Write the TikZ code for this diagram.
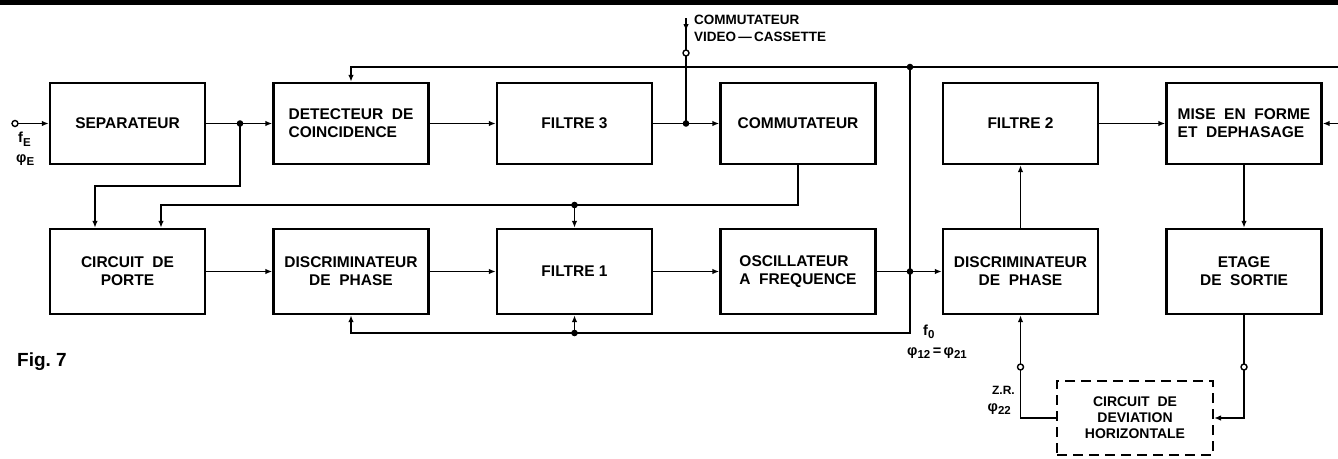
\documentclass[tikz,border=0pt]{standalone}
\usepackage{fontspec}
\setmainfont{Liberation Sans}
\usetikzlibrary{arrows.meta}
% lowered index set in a slightly smaller size
\newcommand{\lowidx}[1]{\raisebox{-3.5pt}{\fontsize{11.5}{12}\selectfont #1}}
\begin{document}
\begin{tikzpicture}[x=1pt,y=-1pt,
  blk/.style={draw, line width=2.4pt, minimum width=155pt, inner sep=0pt,
              font=\fontsize{15.5}{18}\selectfont\bfseries, align=center},
  toprow/.style={blk, minimum height=81pt},
  lowrow/.style={blk, minimum height=85pt},
  wire/.style={line width=1.6pt},
  arr/.style={wire, -{Latex[length=7pt,width=5.5pt]}},
  ringmark/.style={draw, fill=white, line width=1.4pt},
  lbl/.style={font=\fontsize{14.5}{16}\selectfont\bfseries, inner sep=0pt}
]
\useasboundingbox (0,0) rectangle (1338,458);
% heading rule
\fill (0,0) rectangle (1338,4.5);

% upper row of blocks
\node[toprow] (sep)  at (127.5,123.5) {SEPARATEUR};
\node[toprow, align=left] (det) at (351,123.5) {DETECTEUR\ \ DE\\COINCIDENCE};
\node[toprow] (f3)   at (574.5,123.5) {FILTRE 3};
\node[toprow] (com)  at (798,123.5) {COMMUTATEUR};
\node[toprow] (f2)   at (1020.5,123.5) {FILTRE 2};
\node[toprow, align=left] (mise) at (1244,123.5) {MISE\ \ EN\ \ FORME\\ET\ \ DEPHASAGE};

% lower row of blocks
\node[lowrow] (porte) at (127.5,271.5) {CIRCUIT\ \ DE\\PORTE};
\node[lowrow] (disc1) at (351,271.5) {DISCRIMINATEUR\\DE\ \ PHASE};
\node[lowrow] (f1)    at (574.5,271.5) {FILTRE 1};
\node[lowrow, align=left] (osc) at (798,271.5) {OSCILLATEUR\\A\ \ FREQUENCE};
\node[lowrow] (disc2) at (1020.5,271.5) {DISCRIMINATEUR\\DE\ \ PHASE};
\node[lowrow] (etage) at (1244,271.5) {ETAGE\\DE\ \ SORTIE};

% deflection circuit (external)
\node[draw, dash pattern=on 10pt off 6pt, line width=2pt, minimum width=156pt,
      minimum height=74pt, align=center, inner sep=0pt,
      font=\fontsize{14}{16}\selectfont\bfseries] (dev) at (1135,418)
      {CIRCUIT\ \ DE\\DEVIATION\\HORIZONTALE};

% junctions and terminals
\coordinate (inp)   at (15,123.5);
\coordinate (jA)    at (240,123.5);
\coordinate (cA)    at (95,186);
\coordinate (jB)    at (686,123.5);
\coordinate (vtop)  at (686,18);
\coordinate (vring) at (686,53);
\coordinate (tR)    at (1338,67);
\coordinate (jT)    at (910,67);
\coordinate (cB)    at (161,205);
\coordinate (jC)    at (574.5,205);
\coordinate (jD)    at (910,271.5);
\coordinate (cC)    at (910,333);
\coordinate (jE)    at (574.5,333);
\coordinate (rR)    at (1338,123.5);
\coordinate (rz)    at (1020.5,367);
\coordinate (rs)    at (1244,367);

% signal path
\draw[arr] (inp) -- (sep.west);
\draw[wire] (sep.east) -- (jA);
\draw[arr] (jA) -- (det.west);
\draw[arr] (jA) |- (cA) -- (cA |- porte.north);
\draw[arr] (det.east) -- (f3.west);
\draw[wire] (f3.east) -- (jB);
\draw[arr] (jB) -- (com.west);
\draw[wire] (vtop) -- (jB);
\draw[arr] (vtop) -- ++(0,13);
\draw[arr] (tR) -- (det.north |- tR) -- (det.north);
\draw[arr] (com.south) |- (cB) -- (cB |- porte.north);
\draw[arr] (jC) -- (f1.north);
\draw[arr] (porte.east) -- (disc1.west);
\draw[arr] (disc1.east) -- (f1.west);
\draw[arr] (f1.east) -- (osc.west);
\draw[wire] (osc.east) -- (jD);
\draw[arr] (jD) -- (disc2.west);
\draw[arr] (jT) -- (cC) -| (disc1.south);
\draw[arr] (jE) -- (f1.south);
\draw[arr] (disc2.north) -- (f2.south);
\draw[arr] (f2.east) -- (mise.west);
\draw[arr] (mise.south) -- (etage.north);
\draw[arr] (rR) -- (mise.east);
\draw[arr] (dev.west) -| (disc2.south);
\draw[arr] (etage.south) |- (dev.east);

% junction dots
\foreach \p in {jA,jB,jT,jC,jD,jE} \fill (\p) circle (3.3pt);
% terminal rings
\foreach \p in {inp,vring,rz,rs} \draw[ringmark] (\p) circle (3pt);

% labels
\node[lbl, anchor=west] (fe) at (18,139) {f\lowidx{E}};
\node[lbl, anchor=west] (phie) at (16,160) {φ\lowidx{E}};
\node[lbl, anchor=north west, align=left, font=\fontsize{13.5}{16.5}\selectfont\bfseries]
      (vctext) at (694,15) {COMMUTATEUR\\VIDEO\,—\,CASSETTE};
\node[lbl, anchor=west] (f0) at (923,332) {f\lowidx{0}};
\node[lbl, anchor=west] (phi12) at (907,353) {φ\lowidx{12}\,=\,φ\lowidx{21}};
\node[lbl, anchor=east, font=\fontsize{12}{14}\selectfont\bfseries] (zr) at (1015,390) {Z.R.};
\node[lbl, anchor=east] (phi22) at (1011,409) {φ\lowidx{22}};
\node[anchor=west, inner sep=0pt, font=\fontsize{19}{22}\selectfont\bfseries] (fig) at (17,362) {Fig.~7};
\end{tikzpicture}
\end{document}
